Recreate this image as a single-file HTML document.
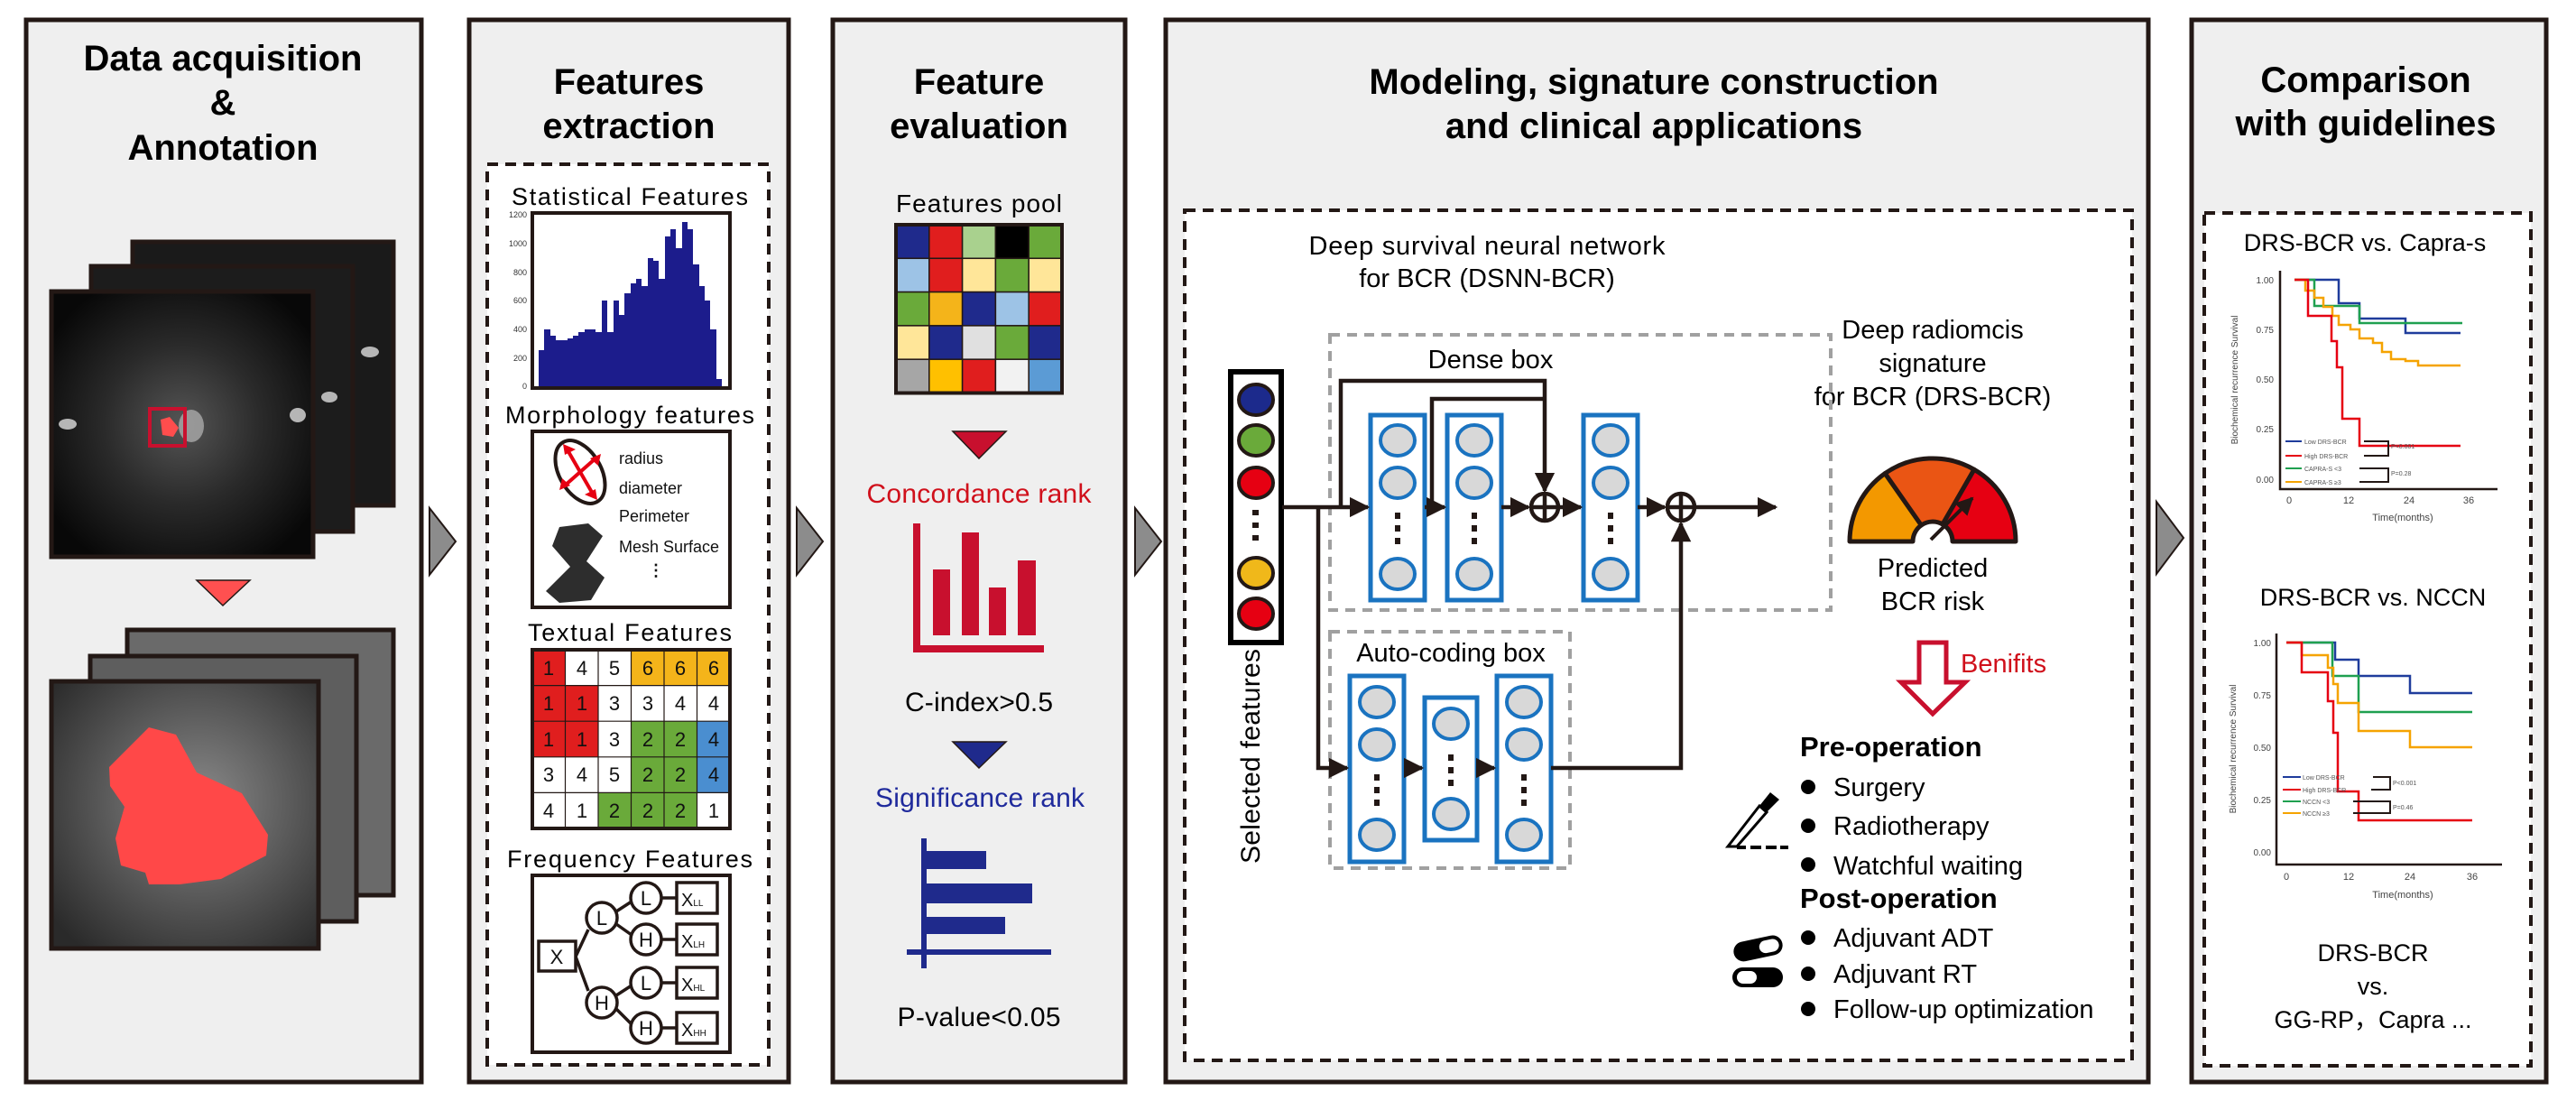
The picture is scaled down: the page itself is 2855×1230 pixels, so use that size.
<!DOCTYPE html>
<html><head><meta charset="utf-8"><style>
html,body{margin:0;padding:0;background:#fff;}
svg{display:block;font-family:"Liberation Sans",Arial,sans-serif;}
</style></head><body>
<svg width="2855" height="1230" viewBox="0 0 2855 1230" xmlns="http://www.w3.org/2000/svg">
<defs>
<radialGradient id="mri1" cx="0.5" cy="0.5" r="0.6">
<stop offset="0" stop-color="#555"/><stop offset="0.5" stop-color="#2a2a2a"/><stop offset="1" stop-color="#080808"/></radialGradient>
<radialGradient id="mri2" cx="0.55" cy="0.45" r="0.7">
<stop offset="0" stop-color="#8a8a8a"/><stop offset="0.5" stop-color="#5a5a5a"/><stop offset="1" stop-color="#2a2a2a"/></radialGradient>
<marker id="ah" viewBox="0 0 10 10" refX="9" refY="5" markerWidth="5" markerHeight="5" orient="auto"><path d="M0,0 L10,5 L0,10 Z" fill="#231815"/></marker>
</defs>

<!-- Panels -->
<g stroke="#231815" stroke-width="5" fill="#efefef">
<rect x="29" y="22" width="438" height="1177"/>
<rect x="520" y="22" width="354" height="1177"/>
<rect x="923" y="22" width="324" height="1177"/>
<rect x="1292" y="22" width="1089" height="1177"/>
<rect x="2429" y="22" width="393" height="1177"/>
</g>

<!-- Gray arrows between panels -->
<g fill="#8c8c8c" stroke="#231815" stroke-width="2">
<path d="M476,563 L505,600 L476,637 Z"/>
<path d="M883,563 L912,600 L883,637 Z"/>
<path d="M1258,563 L1287,600 L1258,637 Z"/>
<path d="M2390,556 L2420,596 L2390,636 Z"/>
</g>

<!-- Titles -->
<g font-weight="bold" font-size="40" text-anchor="middle" fill="#000">
<text x="247" y="78">Data acquisition</text>
<text x="247" y="127">&amp;</text>
<text x="247" y="177">Annotation</text>
<text x="697" y="104">Features</text>
<text x="697" y="153">extraction</text>
<text x="1085" y="104">Feature</text>
<text x="1085" y="153">evaluation</text>
<text x="1833" y="104">Modeling, signature construction</text>
<text x="1833" y="153">and clinical applications</text>
<text x="2622" y="102">Comparison</text>
<text x="2622" y="150">with guidelines</text>
</g>

<!-- Panel 1 MRI stacks -->
<g stroke="#231815" stroke-width="5">
<rect x="147" y="268" width="289" height="292" fill="#1a1a1a"/>
<rect x="101" y="295" width="290" height="294" fill="#1c1c1c"/>
<rect x="57" y="323" width="290" height="294" fill="url(#mri1)"/>
</g>
<g fill="#ddd" opacity="0.8">
<ellipse cx="410" cy="390" rx="10" ry="6"/>
<ellipse cx="365" cy="440" rx="9" ry="6"/>
<ellipse cx="75" cy="470" rx="10" ry="6"/>
<ellipse cx="330" cy="460" rx="9" ry="8"/>
<ellipse cx="212" cy="472" rx="14" ry="18" fill="#aaa"/>
</g>
<rect x="166" y="453" width="39" height="41" fill="none" stroke="#c8102e" stroke-width="4"/>
<path d="M178,465 L188,462 L198,474 L192,484 L180,482 Z" fill="#ff4d4d"/>
<path d="M218,643 L277,643 L247,671 Z" fill="#ff5050" stroke="#231815" stroke-width="1.5"/>
<g stroke="#231815" stroke-width="5">
<rect x="141" y="698" width="295" height="294" fill="#6a6a6a"/>
<rect x="100" y="727" width="295" height="294" fill="#5e5e5e"/>
<rect x="57" y="755" width="296" height="296" fill="url(#mri2)"/>
</g>
<path d="M165,806 L195,814 L218,856 L268,879 L297,925 L295,948 L245,974 L199,980 L165,980 L161,967 L134,959 L128,929 L138,894 L122,871 L121,850 L142,829 Z" fill="#ff4848"/>

<!-- Panel 2 -->
<rect x="540" y="182" width="312" height="998" fill="#fff" stroke="#231815" stroke-width="4" stroke-dasharray="12,8"/>
<g font-size="27" text-anchor="middle" fill="#000">
<text x="698" y="227" textLength="262">Statistical Features</text>
<text x="698" y="469" textLength="276">Morphology features</text>
<text x="698" y="710" textLength="226">Textual Features</text>
<text x="698" y="961" textLength="272">Frequency Features</text>
</g>
<rect x="590" y="236" width="219" height="194" fill="#fff" stroke="#231815" stroke-width="4"/>
<g font-size="9" fill="#333" text-anchor="end">
<text x="584" y="241">1200</text><text x="584" y="273">1000</text><text x="584" y="305">800</text><text x="584" y="336">600</text><text x="584" y="368">400</text><text x="584" y="400">200</text><text x="584" y="431">0</text>
</g>
<g fill="#1c1c8c" id="hist">
<path d="M597,428 V388 H603 V365 H610 V372 H616 V377 H622 V377 H629 V375 H635 V372 H641 V368 H648 V365 H654 V365 H660 V368 H667 V333 H673 V368 H680 V333 H686 V349 H692 V325 H699 V314 H705 V309 H711 V317 H718 V286 H724 V289 H730 V309 H737 V262 H743 V254 H749 V275 H756 V246 H762 V254 H768 V293 H775 V317 H781 V333 H787 V365 H794 V420 H800 V428 Z"/>
</g>

<rect x="590" y="478" width="219" height="195" fill="#fff" stroke="#231815" stroke-width="4"/>
<ellipse cx="643" cy="523" rx="23" ry="38" transform="rotate(-30 643 523)" fill="#fff" stroke="#231815" stroke-width="4"/>
<g stroke="#e60012" stroke-width="4" fill="none">
<line x1="628" y1="497" x2="658" y2="549"/>
<line x1="626" y1="538" x2="660" y2="508"/>
</g>
<g fill="#e60012">
<path d="M624,492 L638,498 L626,504 Z"/><path d="M662,554 L648,548 L660,542 Z"/>
<path d="M620,543 L623,530 L632,538 Z"/><path d="M666,503 L663,516 L654,508 Z"/>
</g>
<path d="M620,584 L652,580 L668,594 L650,622 L670,640 L655,665 L620,668 L605,655 L632,628 L612,605 Z" fill="#2d2d2d"/>
<g font-size="18" fill="#111">
<text x="686" y="514">radius</text>
<text x="686" y="547">diameter</text>
<text x="686" y="578">Perimeter</text>
<text x="686" y="612">Mesh Surface</text>
<text x="718" y="638" font-weight="bold">⋮</text>
</g>

<!-- Textual grid -->
<g stroke="#231815" stroke-width="1">
<rect x="590" y="720" width="219" height="198" fill="#fff" stroke-width="4"/>
</g>
<g id="tgrid" font-size="22" text-anchor="middle">
<!-- row 1 -->
<rect x="590" y="720" width="36.5" height="39.6" fill="#e01e1e"/><rect x="626.5" y="720" width="36.5" height="39.6" fill="#fff"/><rect x="663" y="720" width="36.5" height="39.6" fill="#fff"/><rect x="699.5" y="720" width="36.5" height="39.6" fill="#f4b41a"/><rect x="736" y="720" width="36.5" height="39.6" fill="#f4b41a"/><rect x="772.5" y="720" width="36.5" height="39.6" fill="#f4b41a"/>
<rect x="590" y="759.6" width="36.5" height="39.6" fill="#e01e1e"/><rect x="626.5" y="759.6" width="36.5" height="39.6" fill="#e01e1e"/><rect x="663" y="759.6" width="36.5" height="39.6" fill="#fff"/><rect x="699.5" y="759.6" width="36.5" height="39.6" fill="#fff"/><rect x="736" y="759.6" width="36.5" height="39.6" fill="#fff"/><rect x="772.5" y="759.6" width="36.5" height="39.6" fill="#fff"/>
<rect x="590" y="799.2" width="36.5" height="39.6" fill="#e01e1e"/><rect x="626.5" y="799.2" width="36.5" height="39.6" fill="#e01e1e"/><rect x="663" y="799.2" width="36.5" height="39.6" fill="#fff"/><rect x="699.5" y="799.2" width="36.5" height="39.6" fill="#6aaa3a"/><rect x="736" y="799.2" width="36.5" height="39.6" fill="#6aaa3a"/><rect x="772.5" y="799.2" width="36.5" height="39.6" fill="#4a8ed0"/>
<rect x="590" y="838.8" width="36.5" height="39.6" fill="#fff"/><rect x="626.5" y="838.8" width="36.5" height="39.6" fill="#fff"/><rect x="663" y="838.8" width="36.5" height="39.6" fill="#fff"/><rect x="699.5" y="838.8" width="36.5" height="39.6" fill="#6aaa3a"/><rect x="736" y="838.8" width="36.5" height="39.6" fill="#6aaa3a"/><rect x="772.5" y="838.8" width="36.5" height="39.6" fill="#4a8ed0"/>
<rect x="590" y="878.4" width="36.5" height="39.6" fill="#fff"/><rect x="626.5" y="878.4" width="36.5" height="39.6" fill="#fff"/><rect x="663" y="878.4" width="36.5" height="39.6" fill="#6aaa3a"/><rect x="699.5" y="878.4" width="36.5" height="39.6" fill="#6aaa3a"/><rect x="736" y="878.4" width="36.5" height="39.6" fill="#6aaa3a"/><rect x="772.5" y="878.4" width="36.5" height="39.6" fill="#fff"/>
<g stroke="#231815" stroke-width="1.2">
<line x1="626.5" y1="720" x2="626.5" y2="918"/><line x1="663" y1="720" x2="663" y2="918"/><line x1="699.5" y1="720" x2="699.5" y2="918"/><line x1="736" y1="720" x2="736" y2="918"/><line x1="772.5" y1="720" x2="772.5" y2="918"/>
<line x1="590" y1="759.6" x2="809" y2="759.6"/><line x1="590" y1="799.2" x2="809" y2="799.2"/><line x1="590" y1="838.8" x2="809" y2="838.8"/><line x1="590" y1="878.4" x2="809" y2="878.4"/>
</g>
<rect x="590" y="720" width="219" height="198" fill="none" stroke="#231815" stroke-width="4"/>
<g fill="#111">
<text x="608" y="748">1</text><text x="645" y="748">4</text><text x="681" y="748">5</text><text x="718" y="748">6</text><text x="754" y="748">6</text><text x="791" y="748">6</text>
<text x="608" y="787">1</text><text x="645" y="787">1</text><text x="681" y="787">3</text><text x="718" y="787">3</text><text x="754" y="787">4</text><text x="791" y="787">4</text>
<text x="608" y="827">1</text><text x="645" y="827">1</text><text x="681" y="827">3</text><text x="718" y="827">2</text><text x="754" y="827">2</text><text x="791" y="827">4</text>
<text x="608" y="866">3</text><text x="645" y="866">4</text><text x="681" y="866">5</text><text x="718" y="866">2</text><text x="754" y="866">2</text><text x="791" y="866">4</text>
<text x="608" y="906">4</text><text x="645" y="906">1</text><text x="681" y="906">2</text><text x="718" y="906">2</text><text x="754" y="906">2</text><text x="791" y="906">1</text>
</g>
</g>

<!-- Frequency tree -->
<rect x="590" y="970" width="219" height="196" fill="#fff" stroke="#231815" stroke-width="4"/>
<g stroke="#231815" stroke-width="3.5" fill="none">
<path d="M638,1060 L652,1030"/><path d="M638,1060 L652,1098"/>
<path d="M683,1010 L700,999"/><path d="M683,1024 L700,1036"/>
<path d="M683,1103 L700,1092"/><path d="M683,1118 L700,1135"/>
<path d="M734,995 L750,995"/><path d="M734,1041 L750,1041"/><path d="M734,1089 L750,1089"/><path d="M734,1139 L750,1139"/>
</g>
<g stroke="#231815" stroke-width="3.5" fill="#fff">
<rect x="597" y="1043" width="41" height="33"/>
<circle cx="667" cy="1017" r="17"/><circle cx="667" cy="1111" r="17"/>
<circle cx="716" cy="995" r="17"/><circle cx="716" cy="1041" r="17"/><circle cx="716" cy="1089" r="17"/><circle cx="716" cy="1139" r="17"/>
<rect x="750" y="978" width="45" height="34"/><rect x="750" y="1024" width="45" height="34"/><rect x="750" y="1072" width="45" height="34"/><rect x="750" y="1122" width="45" height="34"/>
</g>
<g font-size="22" text-anchor="middle" fill="#111">
<text x="617" y="1068">X</text>
<text x="667" y="1025">L</text><text x="667" y="1119">H</text>
<text x="716" y="1003">L</text><text x="716" y="1049">H</text><text x="716" y="1097">L</text><text x="716" y="1147">H</text>
</g>
<g font-size="20" fill="#111">
<text x="755" y="1004">X<tspan font-size="10">LL</tspan></text>
<text x="755" y="1050">X<tspan font-size="10">LH</tspan></text>
<text x="755" y="1098">X<tspan font-size="10">HL</tspan></text>
<text x="755" y="1148">X<tspan font-size="10">HH</tspan></text>
</g>

<!-- Panel 3 -->
<text x="1085" y="235" font-size="28" text-anchor="middle" textLength="184">Features pool</text>
<g stroke="#231815" stroke-width="1.5">
<rect x="993" y="249" width="36.8" height="37.3" fill="#1f2a8c"/><rect x="1029.8" y="249" width="36.8" height="37.3" fill="#e01e1e"/><rect x="1066.6" y="249" width="36.8" height="37.3" fill="#a9d18e"/><rect x="1103.4" y="249" width="36.8" height="37.3" fill="#000"/><rect x="1140.2" y="249" width="36.8" height="37.3" fill="#6aaa3a"/>
<rect x="993" y="286.3" width="36.8" height="37.3" fill="#9dc3e6"/><rect x="1029.8" y="286.3" width="36.8" height="37.3" fill="#e01e1e"/><rect x="1066.6" y="286.3" width="36.8" height="37.3" fill="#ffe699"/><rect x="1103.4" y="286.3" width="36.8" height="37.3" fill="#6aaa3a"/><rect x="1140.2" y="286.3" width="36.8" height="37.3" fill="#ffe699"/>
<rect x="993" y="323.6" width="36.8" height="37.3" fill="#6aaa3a"/><rect x="1029.8" y="323.6" width="36.8" height="37.3" fill="#f4b41a"/><rect x="1066.6" y="323.6" width="36.8" height="37.3" fill="#1f2a8c"/><rect x="1103.4" y="323.6" width="36.8" height="37.3" fill="#9dc3e6"/><rect x="1140.2" y="323.6" width="36.8" height="37.3" fill="#e01e1e"/>
<rect x="993" y="360.9" width="36.8" height="37.3" fill="#ffe699"/><rect x="1029.8" y="360.9" width="36.8" height="37.3" fill="#1f2a8c"/><rect x="1066.6" y="360.9" width="36.8" height="37.3" fill="#e0e0e0"/><rect x="1103.4" y="360.9" width="36.8" height="37.3" fill="#6aaa3a"/><rect x="1140.2" y="360.9" width="36.8" height="37.3" fill="#1f2a8c"/>
<rect x="993" y="398.2" width="36.8" height="37.3" fill="#a6a6a6"/><rect x="1029.8" y="398.2" width="36.8" height="37.3" fill="#ffc000"/><rect x="1066.6" y="398.2" width="36.8" height="37.3" fill="#e01e1e"/><rect x="1103.4" y="398.2" width="36.8" height="37.3" fill="#f2f2f2"/><rect x="1140.2" y="398.2" width="36.8" height="37.3" fill="#5b9bd5"/>
</g>
<rect x="993" y="249" width="184" height="186.5" fill="none" stroke="#231815" stroke-width="4"/>
<path d="M1056,478 L1115,478 L1085,508 Z" fill="#c8102e" stroke="#231815" stroke-width="1.5"/>
<text x="1085" y="557" font-size="30" text-anchor="middle" fill="#d0101b" textLength="249">Concordance rank</text>
<g fill="#c8102e">
<rect x="1012" y="580" width="8" height="143"/><rect x="1012" y="715" width="145" height="8"/>
<rect x="1034" y="631" width="19" height="73"/><rect x="1066" y="590" width="19" height="114"/><rect x="1096" y="651" width="19" height="53"/><rect x="1128" y="621" width="20" height="83"/>
</g>
<text x="1085" y="788" font-size="30" text-anchor="middle" textLength="164">C-index&gt;0.5</text>
<path d="M1056,822 L1115,822 L1085,851 Z" fill="#1f2a8c" stroke="#231815" stroke-width="1.5"/>
<text x="1086" y="894" font-size="30" text-anchor="middle" fill="#1f2a9c" textLength="232">Significance rank</text>
<g fill="#1f2a8c">
<rect x="1021" y="929" width="6" height="144"/><rect x="1005" y="1052" width="160" height="6"/>
<rect x="1024" y="943" width="69" height="20"/><rect x="1024" y="979" width="120" height="22"/><rect x="1024" y="1016" width="90" height="19"/>
</g>
<text x="1085" y="1137" font-size="30" text-anchor="middle" textLength="181">P-value&lt;0.05</text>

<!-- Panel 4 -->
<rect x="1313" y="233" width="1050" height="942" fill="#fff" stroke="#231815" stroke-width="4" stroke-dasharray="12,8"/>
<g font-size="29" text-anchor="middle">
<text x="1648" y="282" textLength="395">Deep survival neural network</text>
<text x="1648" y="318">for BCR (DSNN-BCR)</text>
<text x="2142" y="375">Deep radiomcis</text>
<text x="2142" y="412">signature</text>
<text x="2142" y="449">for BCR (DRS-BCR)</text>
<text x="2142" y="639">Predicted</text>
<text x="2142" y="676">BCR risk</text>
</g>
<rect x="1474" y="371" width="555" height="305" fill="none" stroke="#a0a0a0" stroke-width="4" stroke-dasharray="11,8"/>
<rect x="1474" y="700" width="266" height="262" fill="none" stroke="#a0a0a0" stroke-width="4" stroke-dasharray="11,8"/>
<text x="1652" y="408" font-size="29" text-anchor="middle">Dense box</text>
<text x="1608" y="733" font-size="29" text-anchor="middle">Auto-coding box</text>

<!-- selected features -->
<rect x="1364" y="412" width="56" height="300" fill="#fff" stroke="#000" stroke-width="6"/>
<g stroke="#231815" stroke-width="4">
<ellipse cx="1392" cy="443" rx="19" ry="17" fill="#1c2a8c"/>
<ellipse cx="1392" cy="488" rx="19" ry="17" fill="#6aaa3a"/>
<ellipse cx="1392" cy="535" rx="19" ry="17" fill="#e60012"/>
<ellipse cx="1392" cy="635" rx="19" ry="17" fill="#f0b81a"/>
<ellipse cx="1392" cy="680" rx="19" ry="17" fill="#e60012"/>
</g>
<g fill="#231815"><rect x="1388" y="565" width="7" height="6"/><rect x="1388" y="579" width="7" height="6"/><rect x="1388" y="593" width="7" height="6"/></g>
<text transform="translate(1396 838) rotate(-90)" font-size="30" text-anchor="middle" textLength="238">Selected features</text>

<!-- columns -->
<g fill="#fff" stroke="#1a73c0" stroke-width="5">
<rect x="1519" y="460" width="60" height="205"/>
<rect x="1604" y="460" width="60" height="205"/>
<rect x="1755" y="460" width="60" height="205"/>
<rect x="1496" y="749" width="60" height="206"/>
<rect x="1579" y="773" width="58" height="158"/>
<rect x="1659" y="749" width="60" height="206"/>
</g>
<g fill="#d8d8d8" stroke="#1a73c0" stroke-width="4">
<ellipse cx="1549" cy="488" rx="19" ry="17"/><ellipse cx="1549" cy="535" rx="19" ry="17"/><ellipse cx="1549" cy="636" rx="19" ry="17"/>
<ellipse cx="1634" cy="488" rx="19" ry="17"/><ellipse cx="1634" cy="535" rx="19" ry="17"/><ellipse cx="1634" cy="636" rx="19" ry="17"/>
<ellipse cx="1785" cy="488" rx="19" ry="17"/><ellipse cx="1785" cy="535" rx="19" ry="17"/><ellipse cx="1785" cy="636" rx="19" ry="17"/>
<ellipse cx="1526" cy="778" rx="19" ry="17"/><ellipse cx="1526" cy="825" rx="19" ry="17"/><ellipse cx="1526" cy="925" rx="19" ry="17"/>
<ellipse cx="1608" cy="802" rx="19" ry="17"/><ellipse cx="1608" cy="902" rx="19" ry="17"/>
<ellipse cx="1689" cy="778" rx="19" ry="17"/><ellipse cx="1689" cy="825" rx="19" ry="17"/><ellipse cx="1689" cy="925" rx="19" ry="17"/>
</g>
<g fill="#231815">
<rect x="1546" y="568" width="6" height="7"/><rect x="1546" y="582" width="6" height="7"/><rect x="1546" y="596" width="6" height="7"/>
<rect x="1631" y="568" width="6" height="7"/><rect x="1631" y="582" width="6" height="7"/><rect x="1631" y="596" width="6" height="7"/>
<rect x="1782" y="568" width="6" height="7"/><rect x="1782" y="582" width="6" height="7"/><rect x="1782" y="596" width="6" height="7"/>
<rect x="1523" y="858" width="6" height="7"/><rect x="1523" y="872" width="6" height="7"/><rect x="1523" y="886" width="6" height="7"/>
<rect x="1605" y="836" width="6" height="7"/><rect x="1605" y="850" width="6" height="7"/><rect x="1605" y="864" width="6" height="7"/>
<rect x="1686" y="858" width="6" height="7"/><rect x="1686" y="872" width="6" height="7"/><rect x="1686" y="886" width="6" height="7"/>
</g>
<!-- connections -->
<g stroke="#231815" stroke-width="4.5" fill="none">
<line x1="1421" y1="562" x2="1516" y2="562" marker-end="url(#ah)"/>
<line x1="1579" y1="562" x2="1601" y2="562" marker-end="url(#ah)"/>
<line x1="1664" y1="562" x2="1694" y2="562" marker-end="url(#ah)"/>
<line x1="1728" y1="562" x2="1752" y2="562" marker-end="url(#ah)"/>
<line x1="1815" y1="562" x2="1845" y2="562" marker-end="url(#ah)"/>
<line x1="1879" y1="562" x2="1968" y2="562" marker-end="url(#ah)"/>
<path d="M1486,562 V422 H1712 V544" marker-end="url(#ah)"/>
<path d="M1587,562 V442 H1712"/>
<path d="M1461,562 V851 H1493" marker-end="url(#ah)"/>
<line x1="1556" y1="851" x2="1576" y2="851" marker-end="url(#ah)"/>
<line x1="1637" y1="851" x2="1656" y2="851" marker-end="url(#ah)"/>
<path d="M1719,851 H1863 V580" marker-end="url(#ah)"/>
<circle cx="1712" cy="562" r="15" fill="#fff"/><line x1="1697" y1="562" x2="1727" y2="562"/><line x1="1712" y1="547" x2="1712" y2="577"/>
<circle cx="1863" cy="562" r="15" fill="#fff"/><line x1="1848" y1="562" x2="1878" y2="562"/><line x1="1863" y1="547" x2="1863" y2="577"/>
</g>

<!-- gauge -->
<g stroke="#231815" stroke-width="5" stroke-linejoin="round">
<path d="M2050,600 A92,92 0 0 1 2089.2,524.6 L2129.4,582 A22,22 0 0 0 2120,600 Z" fill="#f39800"/>
<path d="M2089.2,524.6 A92,92 0 0 1 2188,520.3 L2153,581 A22,22 0 0 0 2129.4,582 Z" fill="#ea5514"/>
<path d="M2188,520.3 A92,92 0 0 1 2234,600 L2164,600 A22,22 0 0 0 2153,581 Z" fill="#e60012"/>
</g>
<line x1="2140" y1="598" x2="2186" y2="552" stroke="#231815" stroke-width="4" marker-end="url(#ah)"/>
<path d="M2127,712 H2157 V756 H2178 L2142,791 L2107,756 H2127 Z" fill="#fff" stroke="#c8102e" stroke-width="5"/>
<text x="2173" y="745" font-size="29" fill="#d0101b">Benifits</text>
<g font-size="29">
<text x="1995" y="838" font-weight="bold" font-size="31">Pre-operation</text>
<text x="2032" y="882">Surgery</text>
<text x="2032" y="925">Radiotherapy</text>
<text x="2032" y="969">Watchful waiting</text>
<text x="1995" y="1006" font-weight="bold" font-size="31">Post-operation</text>
<text x="2032" y="1049">Adjuvant ADT</text>
<text x="2032" y="1089">Adjuvant RT</text>
<text x="2032" y="1128">Follow-up optimization</text>
</g>
<g fill="#000">
<circle cx="2004" cy="872" r="8"/><circle cx="2004" cy="915" r="8"/><circle cx="2004" cy="958" r="8"/>
<circle cx="2004" cy="1039" r="8"/><circle cx="2004" cy="1079" r="8"/><circle cx="2004" cy="1118" r="8"/>
</g>
<!-- scalpel -->
<path d="M1915,938 L1950,893 L1958,900 L1925,938 Z" fill="none" stroke="#000" stroke-width="3"/>
<path d="M1950,893 L1962,878 L1972,886 L1958,900 Z" fill="#000"/>
<path d="M1925,939 H1935 M1940,939 H1952 M1957,939 H1969 M1973,939 H1982" stroke="#000" stroke-width="4"/>
<!-- pills -->
<g transform="rotate(-12 1948 1051)">
<rect x="1921" y="1040" width="55" height="22" rx="11" fill="#000"/>
<rect x="1950" y="1044" width="22" height="14" rx="7" fill="#fff"/>
</g>
<rect x="1920" y="1072" width="56" height="22" rx="11" fill="#000"/>
<rect x="1925" y="1076" width="22" height="14" rx="7" fill="#fff"/>

<!-- Panel 5 -->
<rect x="2443" y="236" width="362" height="945" fill="#fff" stroke="#231815" stroke-width="4" stroke-dasharray="12,8"/>
<g font-size="27" text-anchor="middle">
<text x="2621" y="278">DRS-BCR vs. Capra-s</text>
<text x="2630" y="671">DRS-BCR vs. NCCN</text>
<text x="2630" y="1065">DRS-BCR</text>
<text x="2630" y="1102">vs.</text>
<text x="2630" y="1139">GG-RP，Capra ...</text>
</g>
<!-- chart 1 -->
<g stroke="#231815" stroke-width="2.5" fill="none">
<path d="M2527,300 V542 H2768"/>
</g>
<g font-size="10" fill="#444" text-anchor="end">
<text x="2520" y="314">1.00</text><text x="2520" y="369">0.75</text><text x="2520" y="424">0.50</text><text x="2520" y="479">0.25</text><text x="2520" y="535">0.00</text>
</g>
<g font-size="11" fill="#444" text-anchor="middle">
<text x="2537" y="558">0</text><text x="2603" y="558">12</text><text x="2670" y="558">24</text><text x="2736" y="558">36</text>
<text x="2663" y="577">Time(months)</text>
</g>
<text transform="translate(2480 421) rotate(-90)" font-size="10" fill="#444" text-anchor="middle">Biochemical recurrence Survival</text>
<g fill="none" stroke-width="2.5">
<path d="M2543,310 H2592 V336 H2615 V353 H2666 V369 H2727" stroke="#1f3c9c"/>
<path d="M2543,310 H2565 V339 H2615 V358 H2729" stroke="#1fa050"/>
<path d="M2543,310 H2555 V322 H2565 V330 H2575 V340 H2585 V350 H2592 V360 H2605 V365 H2615 V375 H2630 V380 H2640 V390 H2650 V398 H2666 V400 H2680 V405 H2727" stroke="#f5a300"/>
<path d="M2543,310 H2558 V350 H2584 V378 H2590 V407 H2596 V464 H2615 V494 H2727" stroke="#e60012"/>
</g>
<g stroke-width="2"><line x1="2533" y1="489" x2="2551" y2="489" stroke="#1f3c9c"/><line x1="2533" y1="505" x2="2551" y2="505" stroke="#e60012"/><line x1="2533" y1="519" x2="2551" y2="519" stroke="#1fa050"/><line x1="2533" y1="534" x2="2551" y2="534" stroke="#f5a300"/>
<path d="M2620,489 H2647 V505 H2620 M2615,519 H2647 V534 H2615" stroke="#231815" fill="none"/></g>
<g font-size="7" fill="#555"><text x="2554" y="492">Low DRS-BCR</text><text x="2554" y="508">High DRS-BCR</text><text x="2554" y="522">CAPRA-S &lt;3</text><text x="2554" y="537">CAPRA-S ≥3</text><text x="2650" y="497">P&lt;0.001</text><text x="2650" y="527">P=0.28</text></g>

<!-- chart 2 -->
<g stroke="#231815" stroke-width="2.5" fill="none"><path d="M2523,702 V958 H2773"/></g>
<g font-size="10" fill="#444" text-anchor="end">
<text x="2517" y="716">1.00</text><text x="2517" y="774">0.75</text><text x="2517" y="832">0.50</text><text x="2517" y="890">0.25</text><text x="2517" y="948">0.00</text>
</g>
<g font-size="11" fill="#444" text-anchor="middle">
<text x="2534" y="975">0</text><text x="2603" y="975">12</text><text x="2671" y="975">24</text><text x="2740" y="975">36</text>
<text x="2663" y="995">Time(months)</text>
</g>
<text transform="translate(2478 830) rotate(-90)" font-size="10" fill="#444" text-anchor="middle">Biochemical recurrence Survival</text>
<g fill="none" stroke-width="2.5">
<path d="M2534,712 H2588 V731 H2614 V749 H2671 V768 H2740" stroke="#1f3c9c"/>
<path d="M2534,712 H2585 V749 H2614 V789 H2740" stroke="#1fa050"/>
<path d="M2534,712 H2551 V726 H2580 V740 H2586 V758 H2591 V779 H2614 V810 H2671 V828 H2740" stroke="#f5a300"/>
<path d="M2534,712 H2551 V745 H2580 V777 H2586 V812 H2591 V877 H2614 V909 H2740" stroke="#e60012"/>
</g>
<g stroke-width="2"><line x1="2530" y1="861" x2="2550" y2="861" stroke="#1f3c9c"/><line x1="2530" y1="875" x2="2550" y2="875" stroke="#e60012"/><line x1="2530" y1="888" x2="2550" y2="888" stroke="#1fa050"/><line x1="2530" y1="901" x2="2550" y2="901" stroke="#f5a300"/>
<path d="M2630,861 H2649 V875 H2628 M2608,888 H2649 V901 H2608" stroke="#231815" fill="none"/></g>
<g font-size="7" fill="#555"><text x="2552" y="864">Low DRS-BCR</text><text x="2552" y="878">High DRS-BCR</text><text x="2552" y="891">NCCN &lt;3</text><text x="2552" y="904">NCCN ≥3</text><text x="2652" y="870">P&lt;0.001</text><text x="2652" y="897">P=0.46</text></g>
</svg>
</body></html>
